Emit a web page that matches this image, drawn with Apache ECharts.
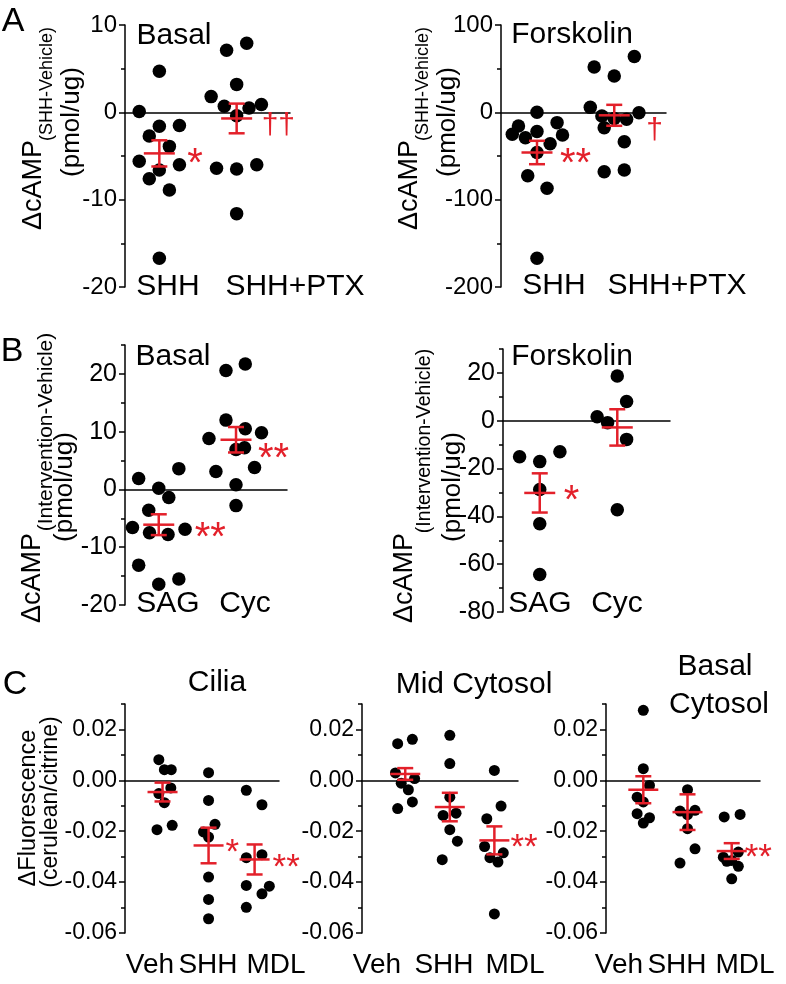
<!DOCTYPE html>
<html><head><meta charset="utf-8">
<script src="https://cdn.jsdelivr.net/npm/echarts@6/dist/echarts.min.js"></script>
<style>html,body{margin:0;padding:0;background:#fff}#c{width:786px;height:984px}</style>
</head><body><div id="c"></div>
<script>
// ---------- Panel A : ΔcAMP (SHH - Vehicle) ----------
const aCategories = ['SHH', 'SHH+PTX'];
const aBasalShhY = [4.7, 0.1, -1.6, -1.5, -2.7, -3.9, -5.6, -6.0, -6.6, -7.6, -8.9, -16.7];
const aBasalShhX = [0, -0.26, 0, 0.26, -0.13, 0.13, -0.26, 0.26, 0, -0.13, 0.13, 0];
const aBasalPtxY = [7.1, 7.9, 3.2, 1.8, 0.7, 0.9, 0.5, -0.4, -6.4, -6.5, -6.0, -11.6];
const aBasalPtxX = [-0.13, 0.13, 0, -0.33, -0.16, 0.32, 0.16, 0, -0.26, 0, 0.26, 0];
const aBasalMean = [-4.7, -0.7];
const aBasalSem = [1.5, 1.7];
const aBasalSig = ['*', '††'];
const aBasalTicks = [-20, -10, 0, 10];
const aBasalMinor = [-15, -5, 5];

const aForskShhY = [0, -15.6, -25.2, -29, -22, -11.8, -26, -36, -46, -72.5, -87, -167];
const aForskShhX = [0, -0.24, -0.32, -0.15, 0, 0.26, 0.33, 0.17, 0, -0.12, 0.13, 0];
const aForskPtxY = [52, 41.6, 64, 5.7, -4.2, -17.6, -7, -8, -0.4, -33.6, -68, -66];
const aForskPtxX = [-0.26, 0, 0.26, -0.31, -0.16, -0.13, 0, 0.16, 0.32, 0.13, -0.13, 0.13];
const aForskMean = [-46, -3.4];
const aForskSem = [13.4, 12];
const aForskSig = ['**', '†'];
const aForskTicks = [-200, -100, 0, 100];
const aForskMinor = [-150, -50, 50];

// ---------- Panel B : ΔcAMP (Intervention - Vehicle) ----------
const bCategories = ['SAG', 'Cyc'];
const bBasalSagY = [1.9, 0.2, 3.6, -1.4, -3.6, -6.6, -7.5, -7.8, -6.9, -13.1, -16.4, -15.5];
const bBasalSagX = [-0.26, 0, 0.26, 0.13, -0.13, -0.34, -0.12, 0.12, 0.34, -0.26, 0, 0.26];
const bBasalCycY = [20.6, 21.7, 12.0, 10.5, 9.8, 8.8, 6.9, 7.2, 3.1, 3.8, 0.8, -2.8];
const bBasalCycX = [-0.13, 0.12, -0.13, 0.12, 0.33, -0.35, 0, 0.11, -0.26, 0.24, 0, 0];
const bBasalMean = [-6.1, 8.6];
const bBasalSem = [1.8, 2.2];
const bBasalSig = ['**', '**'];
const bBasalTicks = [-20, -10, 0, 10, 20];
const bBasalMinor = [-15, -5, 5, 15, 25];

const bForskSagY = [-15.1, -17.1, -13.0, -28.8, -43.1, -64.3];
const bForskSagX = [-0.26, 0, 0.26, 0, 0, 0];
const bForskCycY = [18.7, 8.0, 1.7, -0.8, -7.8, -37.2];
const bForskCycX = [0, 0.12, -0.26, -0.125, 0.12, 0];
const bForskMean = [-30.2, -2.8];
const bForskSem = [8.2, 7.6];
const bForskSig = ['*', ''];
const bForskTicks = [-80, -60, -40, -20, 0, 20];
const bForskMinor = [-70, -50, -30, -10, 10, 30];

// ---------- Panel C : ΔFluorescence (cerulean/citrine) ----------
const cCategories = ['Veh', 'SHH', 'MDL'];
const cTicks = [-0.06, -0.04, -0.02, 0, 0.02];
const cMinor = [-0.05, -0.03, -0.01, 0.01, 0.03];

const cCiliaVehY = [0.0081, 0.0042, 0.0042, -0.003, -0.0052, -0.0088, -0.0194, -0.0177];
const cCiliaVehX = [-0.08, 0.04, 0.19, 0.18, -0.08, 0.04, -0.12, 0.21];
const cCiliaShhY = [0.003, -0.0079, -0.0173, -0.0203, -0.0223, -0.038, -0.0468, -0.0544];
const cCiliaShhX = [0, 0, 0.14, -0.11, 0, 0, 0, 0];
const cCiliaMdlY = [-0.0039, -0.0096, -0.0304, -0.0292, -0.0413, -0.0416, -0.0446, -0.0499];
const cCiliaMdlX = [-0.18, 0.16, -0.18, 0.16, -0.18, 0.32, 0.16, -0.18];
const cCiliaMean = [-0.0046, -0.0256, -0.0311];
const cCiliaSem = [0.0037, 0.0070, 0.0059];
const cCiliaSig = ['', '*', '**'];

const cMidVehY = [0.0144, 0.0161, 0.0029, -0.0011, -0.0037, 0.0007, -0.0085, -0.0111];
const cMidVehX = [-0.17, 0.16, -0.22, -0.09, 0.07, 0.21, 0.16, -0.17];
const cMidShhY = [0.0177, 0.0066, -0.0066, -0.0138, -0.0129, -0.0194, -0.0239, -0.0312];
const cMidShhX = [0, 0, 0, -0.15, 0.14, 0, 0.17, -0.17];
const cMidMdlY = [0.0039, -0.0101, -0.0151, -0.026, -0.0304, -0.0321, -0.0285, -0.0525];
const cMidMdlX = [0, 0.15, -0.17, -0.22, -0.1, 0.08, 0.2, 0];
const cMidMean = [0.0025, -0.0105, -0.0236];
const cMidSem = [0.0023, 0.0056, 0.0055];
const cMidSig = ['', '', '**'];

const cBasVehY = [0.0275, 0.0046, -0.002, -0.0066, -0.0085, -0.0131, -0.0147, -0.0168];
const cBasVehX = [0, 0, 0.14, -0.14, 0, -0.14, 0.14, 0];
const cBasShhY = [-0.0037, -0.0121, -0.0118, -0.0135, -0.019, -0.0269, -0.0325];
const cBasShhX = [0, -0.17, 0.17, 0, 0, 0.17, -0.17];
const cBasMdlY = [-0.0144, -0.0134, -0.0302, -0.0315, -0.0282, -0.0338, -0.0387, -0.0318];
const cBasMdlX = [-0.17, 0.19, -0.19, 0, 0.15, 0.15, 0, -0.11];
const cBasMean = [-0.0037, -0.0125, -0.0278];
const cBasSem = [0.0053, 0.0070, 0.0031];
const cBasSig = ['', '', '**'];

// ---------- layout ----------
const FONT = '"Liberation Sans", Arial, Helvetica, sans-serif';
const RED = '#e3202a';
const panels = [
  {grid:{left:125, top:25, width:165, height:262}, xr:[0.556, 2.69], yr:[-20, 10], ticks:aBasalTicks, minor:aBasalMinor,
   cols:[[aBasalShhY, aBasalShhX], [aBasalPtxY, aBasalPtxX]], mean:aBasalMean, sem:aBasalSem, sig:aBasalSig,
   sigOff:[[28, 3], [25, 7]], dot:13.5, tickFont:24, dec:0, sigFont:40, cap:8, meanHalf:15.5},
  {grid:{left:501, top:25, width:165, height:262}, xr:[0.534, 2.67], yr:[-200, 100], ticks:aForskTicks, minor:aForskMinor,
   cols:[[aForskShhY, aForskShhX], [aForskPtxY, aForskPtxX]], mean:aForskMean, sem:aForskSem, sig:aForskSig,
   sigOff:[[23, 4], [32, 15]], dot:13.5, tickFont:24, dec:0, sigFont:40, cap:8, meanHalf:15.5},
  {grid:{left:125, top:345, width:162, height:260}, xr:[0.563, 2.66], yr:[-20, 25], ticks:bBasalTicks, minor:bBasalMinor,
   cols:[[bBasalSagY, bBasalSagX], [bBasalCycY, bBasalCycX]], mean:bBasalMean, sem:bBasalSem, sig:bBasalSig,
   sigOff:[[36, 5], [22, 11]], dot:13.5, tickFont:25, dec:0, sigFont:40, cap:8, meanHalf:15.5},
  {grid:{left:503, top:349, width:167, height:263}, xr:[0.526, 2.68], yr:[-80, 30], ticks:bForskTicks, minor:bForskMinor,
   cols:[[bForskSagY, bForskSagX], [bForskCycY, bForskCycX]], mean:bForskMean, sem:bForskSem, sig:bForskSig,
   sigOff:[[24, 0], [0, 0]], dot:13.5, tickFont:25, dec:0, sigFont:40, cap:8, meanHalf:15.5},
  {grid:{left:125, top:704, width:154, height:229}, xr:[0.185, 3.53], yr:[-0.06, 0.03], ticks:cTicks, minor:cMinor,
   cols:[[cCiliaVehY, cCiliaVehX], [cCiliaShhY, cCiliaShhX], [cCiliaMdlY, cCiliaMdlX]], mean:cCiliaMean, sem:cCiliaSem, sig:cCiliaSig,
   sigOff:[[0, 0], [17, 0], [18, 1]], dot:11, tickFont:23, dec:2, sigFont:35, cap:8, meanHalf:15},
  {grid:{left:362, top:704, width:156, height:229}, xr:[0.03, 3.53], yr:[-0.06, 0.03], ticks:cTicks, minor:cMinor,
   cols:[[cMidVehY, cMidVehX], [cMidShhY, cMidShhX], [cMidMdlY, cMidMdlX]], mean:cMidMean, sem:cMidSem, sig:cMidSig,
   sigOff:[[0, 0], [0, 0], [16, 0]], dot:11, tickFont:23, dec:2, sigFont:35, cap:8, meanHalf:15},
  {grid:{left:606, top:704, width:154, height:229}, xr:[0.156, 3.64], yr:[-0.06, 0.03], ticks:cTicks, minor:cMinor,
   cols:[[cBasVehY, cBasVehX], [cBasShhY, cBasShhX], [cBasMdlY, cBasMdlX]], mean:cBasMean, sem:cBasSem, sig:cBasSig,
   sigOff:[[0, 0], [0, 0], [13, 0]], dot:11, tickFont:23, dec:2, sigFont:35, cap:8, meanHalf:15}
];

const option = {animation:false, backgroundColor:'#fff', grid:[], xAxis:[], yAxis:[], series:[], graphic:{elements:[]}};
const axisLineStyle = {color:'#000', width:1.5};

panels.forEach((p, i) => {
  option.grid.push(Object.assign({containLabel:false}, p.grid));
  option.xAxis.push({type:'value', gridIndex:i, min:p.xr[0], max:p.xr[1],
    axisLine:{show:true, onZero:true, lineStyle:axisLineStyle},
    axisTick:{show:false}, axisLabel:{show:false}, splitLine:{show:false}});
  option.yAxis.push({type:'value', gridIndex:i, min:p.yr[0], max:p.yr[1], position:'left',
    axisLine:{show:true, onZero:false, lineStyle:axisLineStyle},
    axisTick:{show:true, length:6, customValues:p.ticks, lineStyle:axisLineStyle},
    axisLabel:{show:true, customValues:p.ticks, margin:8, color:'#000', fontFamily:FONT, fontSize:p.tickFont,
      formatter: v => p.dec ? Number(v).toFixed(p.dec) : String(Math.round(v))},
    splitLine:{show:false}});
  option.yAxis.push({type:'value', gridIndex:i, min:p.yr[0], max:p.yr[1], position:'left',
    axisLine:{show:false, onZero:false},
    axisTick:{show:true, length:4, customValues:p.minor, lineStyle:axisLineStyle},
    axisLabel:{show:false}, splitLine:{show:false}});
  p.cols.forEach((col, c) => {
    option.series.push({type:'scatter', xAxisIndex:i, yAxisIndex:2 * i, silent:true, z:2,
      symbol:'circle', symbolSize:p.dot, itemStyle:{color:'#000', opacity:1},
      data: col[0].map((v, k) => [c + 1 + col[1][k], v])});
  });
  option.series.push({type:'custom', xAxisIndex:i, yAxisIndex:2 * i, silent:true, z:5,
    data: p.mean.map((m, k) => [k + 1, m, p.sem[k], k]),
    renderItem: (params, api) => {
      const x = api.value(0), m = api.value(1), s = api.value(2), k = api.value(3);
      const c = api.coord([x, m]), t = api.coord([x, m + s]), b = api.coord([x, m - s]);
      const st = {stroke:RED, lineWidth:2.5};
      const ch = [
        {type:'line', shape:{x1:c[0], y1:t[1], x2:c[0], y2:b[1]}, style:st},
        {type:'line', shape:{x1:c[0] - p.cap, y1:t[1], x2:c[0] + p.cap, y2:t[1]}, style:st},
        {type:'line', shape:{x1:c[0] - p.cap, y1:b[1], x2:c[0] + p.cap, y2:b[1]}, style:st},
        {type:'line', shape:{x1:c[0] - p.meanHalf, y1:c[1], x2:c[0] + p.meanHalf, y2:c[1]}, style:st}
      ];
      const sig = p.sig[k];
      if (sig) {
        const off = p.sigOff[k];
        const isStar = sig.indexOf('*') >= 0;
        const fs = isStar ? p.sigFont : 30;
        const shift = isStar ? 0.22 * fs : 0.02 * fs;
        ch.push({type:'text', x:c[0] + off[0], y:c[1] + off[1] + shift,
          style:{text:sig, fill:RED, font:fs + 'px ' + FONT, align:'left', verticalAlign:'middle',
                 textAlign:'left', textVerticalAlign:'middle'}});
      }
      return {type:'group', children:ch};
    }});
});

function txt(x, y, text, size, rot) {
  return {type:'text', x:x, y:y, rotation:rot || 0, silent:true,
    style:{text:text, fill:'#000', font:size + 'px ' + FONT, align:'center', verticalAlign:'middle',
           textAlign:'center', textVerticalAlign:'middle'}};
}
const R = Math.PI / 2;
const G = option.graphic.elements;
// panel letters
G.push(txt(13, 22, 'A', 34), txt(12, 352, 'B', 34), txt(15, 685, 'C', 34));
// titles
G.push(txt(174, 36, 'Basal', 30), txt(572, 35, 'Forskolin', 30),
       txt(173, 357, 'Basal', 30), txt(572, 357, 'Forskolin', 30),
       txt(217, 683, 'Cilia', 30), txt(474, 685, 'Mid Cytosol', 30),
       txt(715, 667, 'Basal', 30), txt(719, 705, 'Cytosol', 30));
// category labels
G.push(txt(168, 287, aCategories[0], 30), txt(295, 287, aCategories[1], 30),
       txt(554, 286, aCategories[0], 30), txt(677, 286, aCategories[1], 30),
       txt(168, 604, bCategories[0], 30), txt(245, 604, bCategories[1], 30),
       txt(540, 604, bCategories[0], 30), txt(617, 604, bCategories[1], 30));
[[150, 208, 276], [377, 444, 515], [619, 677, 745]].forEach(xs => {
  xs.forEach((x, k) => G.push(txt(x, 965, cCategories[k], 28)));
});
// y-axis titles (rotated)
G.push(txt(34, 185, 'ΔcAMP', 27, R), txt(47, 84, '(SHH-Vehicle)', 18, R), txt(72, 122, '(pmol/ug)', 26, R),
       txt(410, 185, 'ΔcAMP', 27, R), txt(423, 84, '(SHH-Vehicle)', 18, R), txt(448, 122, '(pmol/ug)', 26, R),
       txt(33, 578, 'ΔcAMP', 27, R), txt(46, 432, '(Intervention-Vehicle)', 21, R), txt(65, 487, '(pmol/ug)', 26, R),
       txt(405, 578, 'ΔcAMP', 27, R), txt(425, 441, '(Intervention-Vehicle)', 19.5, R), txt(453, 487, '(pmol/ug)', 26, R),
       txt(29, 808, 'ΔFluorescence', 23.5, R), txt(51, 802, '(cerulean/citrine)', 23, R));

const chart = echarts.init(document.getElementById('c'), null, {renderer:'canvas'});
chart.setOption(option);
</script>
</body></html>
